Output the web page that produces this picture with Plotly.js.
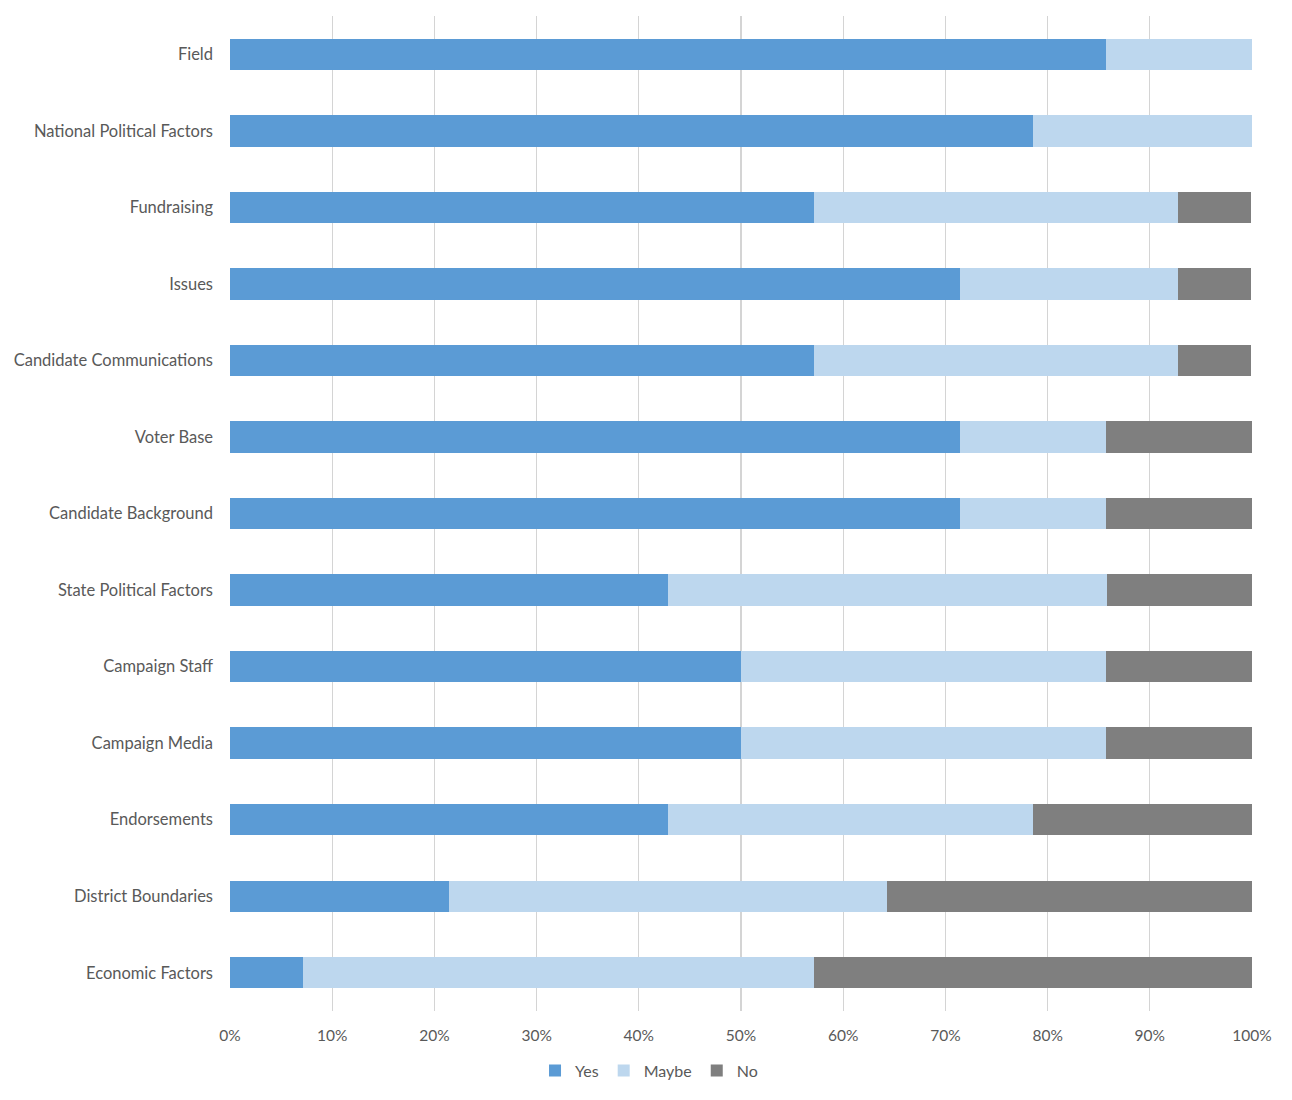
<!DOCTYPE html>
<html>
<head>
<meta charset="utf-8">
<script src="https://cdn.plot.ly/plotly-3.0.1.min.js"></script>
<style>
  html, body { margin: 0; padding: 0; background: #fff; }
  #chart { width: 1292px; height: 1100px; }
</style>
</head>
<body>
<div id="chart"></div>
<script>
// categories top to bottom
const categories = [
  "Field",
  "National Political Factors",
  "Fundraising",
  "Issues",
  "Candidate Communications",
  "Voter Base",
  "Candidate Background",
  "State Political Factors",
  "Campaign Staff",
  "Campaign Media",
  "Endorsements",
  "District Boundaries",
  "Economic Factors",
];

// shares in percent
const yesValues = [85.7, 78.6, 57.1, 71.4, 57.1, 71.4, 71.4, 42.9, 50.0, 50.0, 42.9, 21.4, 7.1];
const maybeValues = [14.3, 21.4, 35.7, 21.4, 35.7, 14.3, 14.3, 42.9, 35.7, 35.7, 35.7, 42.9, 50.0];
const noValues = [0, 0, 7.1, 7.1, 7.1, 14.3, 14.3, 14.3, 14.3, 14.3, 21.4, 35.7, 42.9];

const tickValues = [0, 10, 20, 30, 40, 50, 60, 70, 80, 90, 100];
const tickLabels = ["0%", "10%", "20%", "30%", "40%", "50%", "60%", "70%", "80%", "90%", "100%"];

const series = [
  { name: "Yes", values: yesValues, color: "#5B9BD5" },
  { name: "Maybe", values: maybeValues, color: "#BDD7EE" },
  { name: "No", values: noValues, color: "#7F7F7F" },
];

const data = series.map((s) => ({
  type: "bar",
  orientation: "h",
  name: s.name,
  x: s.values,
  y: categories,
  marker: { color: s.color, line: { width: 0 } },
  hoverinfo: "x+name",
}));

const fontFamily = "Lato, 'Open Sans', sans-serif";
const labelFont = { family: fontFamily, size: 16.5, color: "#595959" };
const tickFont = { family: fontFamily, size: 15.5, color: "#595959" };

const layout = {
  barmode: "stack",
  bargap: 0.59,
  width: 1292,
  height: 1100,
  margin: { l: 230, r: 40, t: 16, b: 84 },
  paper_bgcolor: "#ffffff",
  plot_bgcolor: "#ffffff",
  font: tickFont,
  xaxis: {
    range: [0, 100],
    tickvals: tickValues,
    ticktext: tickLabels,
    showgrid: true,
    gridcolor: "#D4D4D4",
    gridwidth: 1.3,
    zeroline: false,
    showline: false,
    ticks: "",
    ticklabelstandoff: 13,
    tickfont: tickFont,
    fixedrange: true,
  },
  yaxis: {
    type: "category",
    autorange: "reversed",
    showgrid: false,
    zeroline: false,
    showline: false,
    ticks: "",
    ticklabelstandoff: 16,
    tickfont: labelFont,
    fixedrange: true,
  },
  legend: {
    orientation: "h",
    x: 0.41,
    xanchor: "center",
    y: -0.06,
    yanchor: "middle",
    font: { family: fontFamily, size: 16, color: "#595959" },
    itemwidth: 30,
    traceorder: "normal",
  },
  showlegend: true,
};

Plotly.newPlot("chart", data, layout, { displayModeBar: false, staticPlot: true });
</script>
</body>
</html>
